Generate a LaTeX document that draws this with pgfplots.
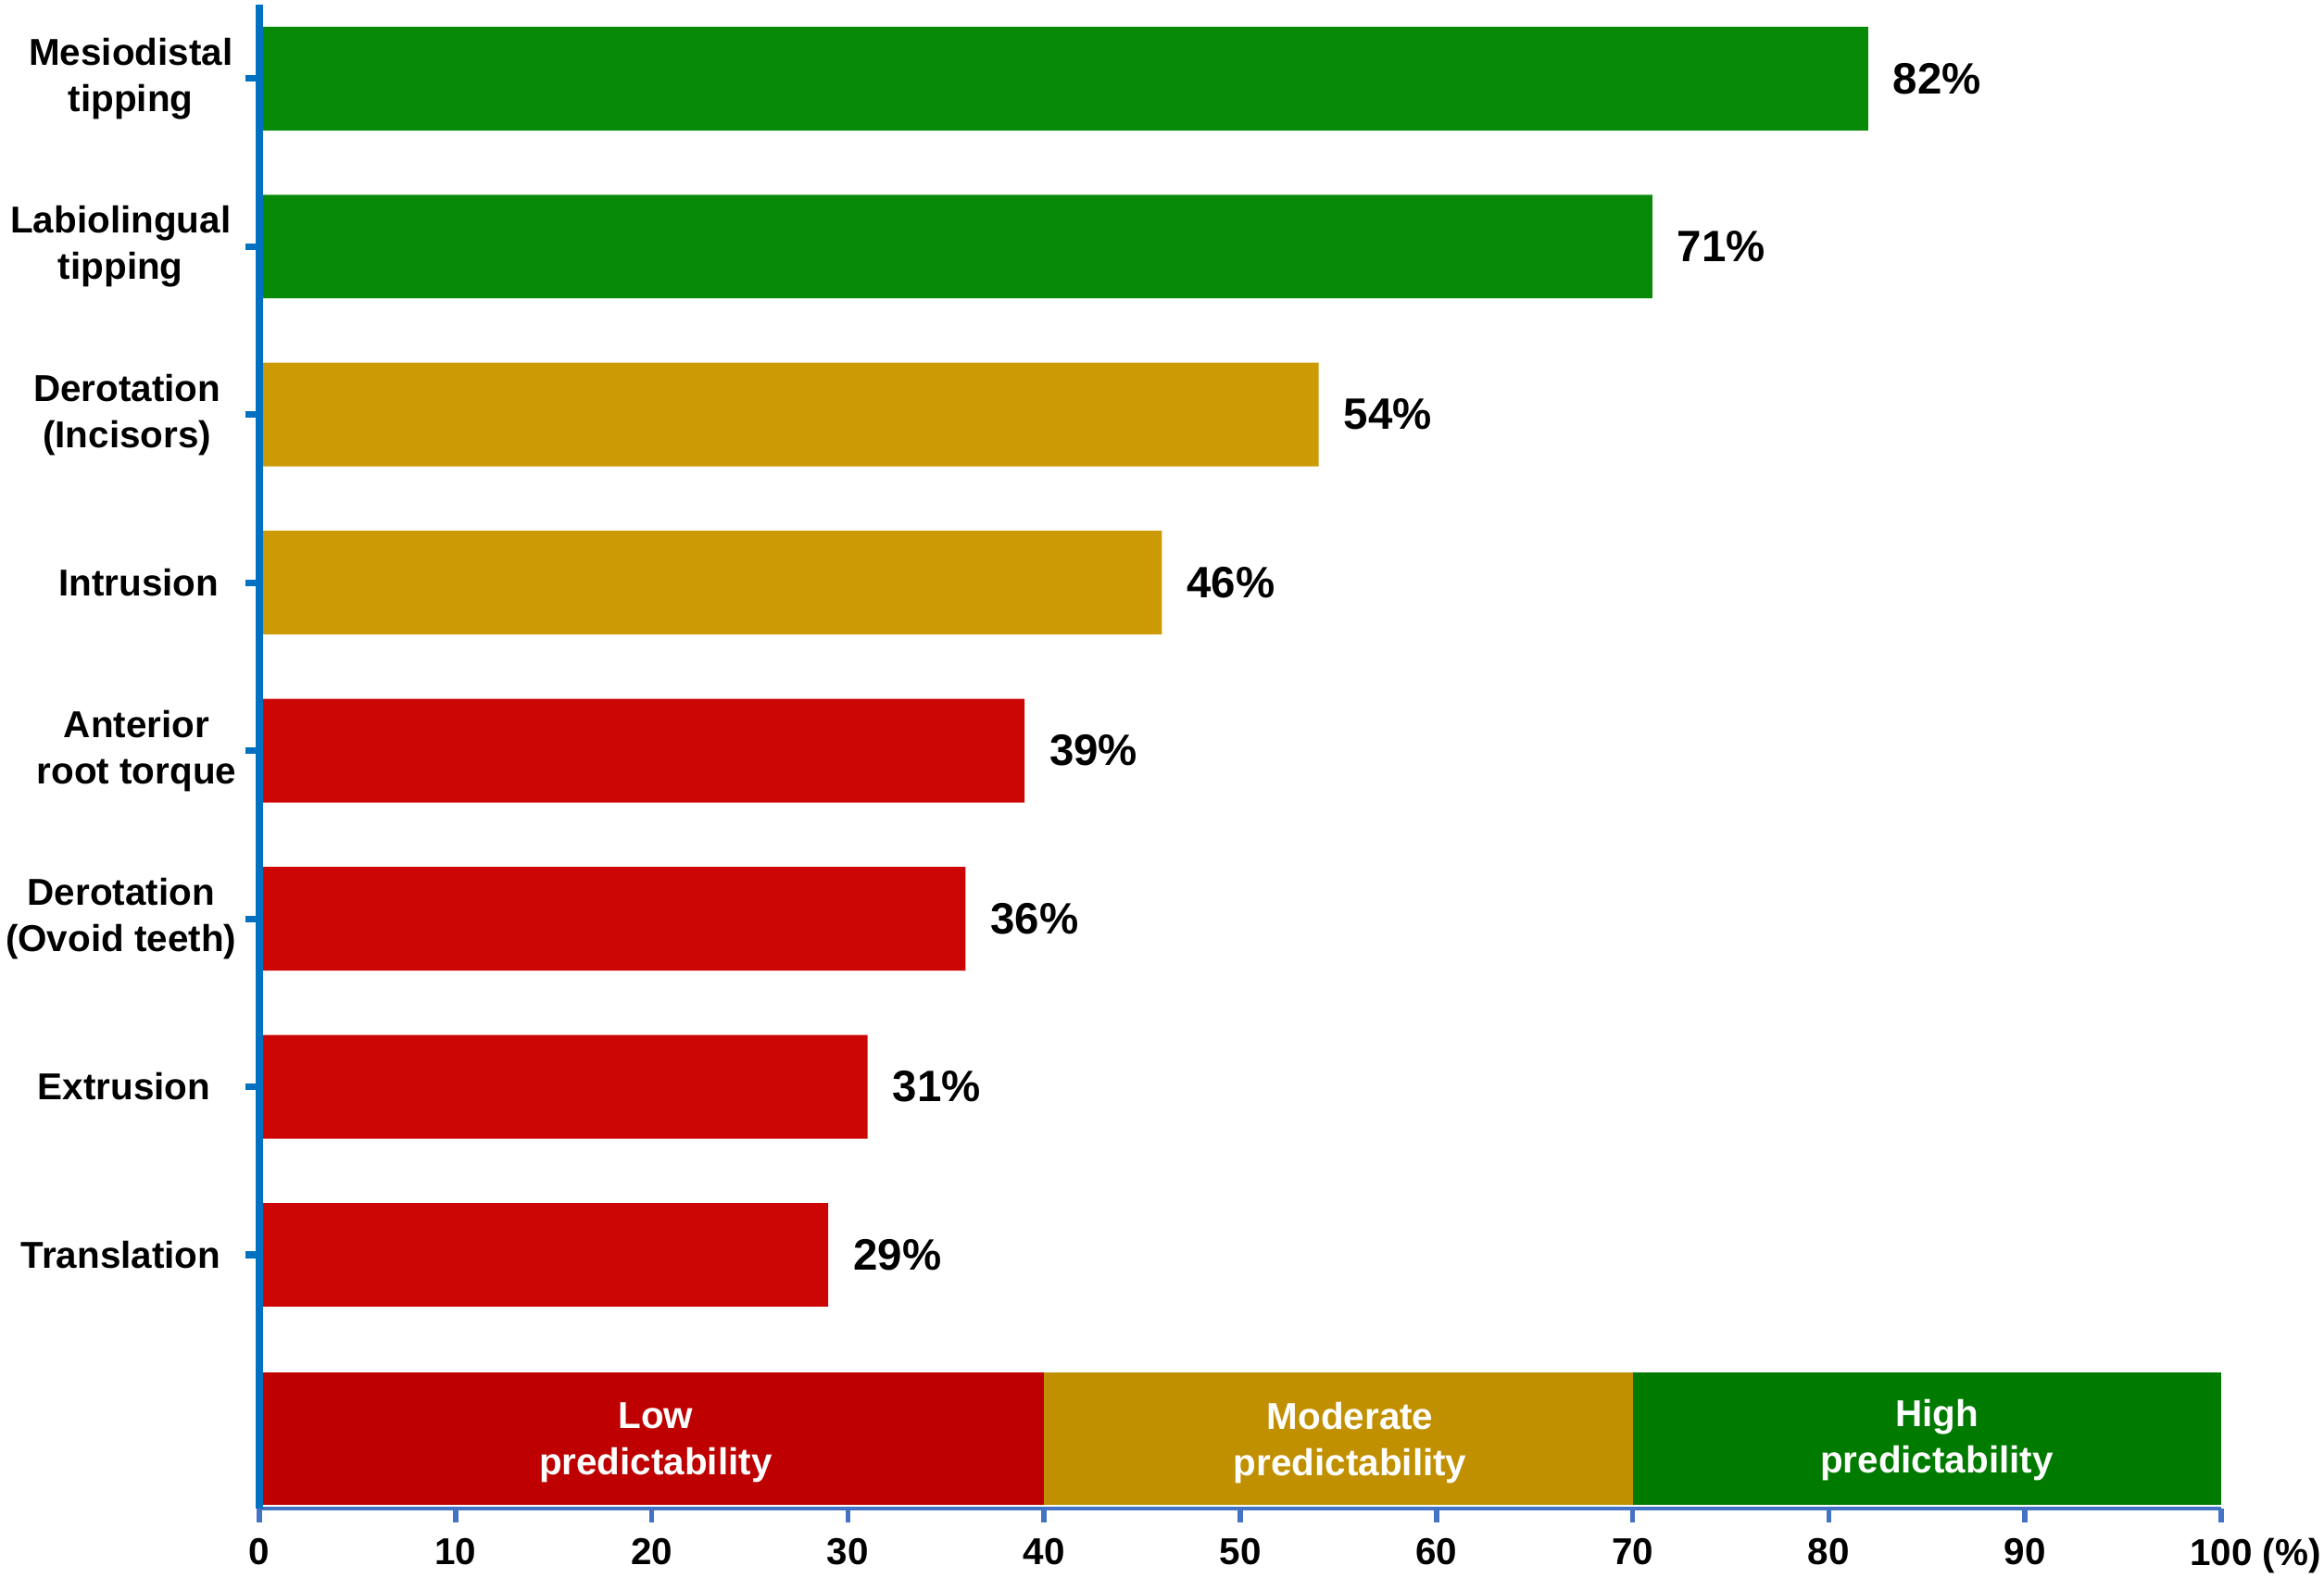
\documentclass[border=0pt]{standalone}
\usepackage{fontspec}
\setmainfont{Liberation Sans}
\usepackage{pgfplots}
\pgfplotsset{compat=1.18}
\definecolor{bargreen}{HTML}{078A07}
\definecolor{bargold}{HTML}{CC9A05}
\definecolor{barred}{HTML}{CC0505}
\definecolor{bandred}{HTML}{BE0000}
\definecolor{bandgold}{HTML}{C09000}
\definecolor{bandgreen}{HTML}{007B00}
\definecolor{yblue}{HTML}{0070C0}
\definecolor{xblue}{HTML}{4472C4}
\newcommand{\lab}{\fontsize{11.5}{14.2}\selectfont\bfseries}
\newcommand{\val}{\fontsize{13.5}{16}\selectfont\bfseries}
\pgfplotsset{
  mybar/.style={
    xbar, bar width=0.617, bar shift=0pt, draw=none, point meta=x,
    nodes near coords={\pgfmathprintnumber{\pgfplotspointmeta}\%},
    nodes near coords style={anchor=west, inner sep=0pt, xshift=7.5pt, font=\val, text=black}},
  band/.style={draw=none, forget plot}
}
\begin{document}
\begin{tikzpicture}
\begin{axis}[
  scale only axis, width=211.8mm, height=162.4mm,
  xmin=0, xmax=100, ymin=-0.51, ymax=8.44,
  axis x line=bottom, axis y line=left,
  x axis line style={-, draw=xblue, line width=1.4pt},
  y axis line style={-, draw=yblue, line width=2pt},
  xtick={0,10,...,100},
  xticklabels={0,10,20,30,40,50,60,70,80,90,{100\rlap{ (\%)}}},
  ytick={1,2,3,4,5,6,7,8},
  yticklabels={
    {Translation\hspace*{1.7mm}},
    {Extrusion\hspace*{2.8mm}},
    {Derotation\\(Ovoid teeth)},
    {Anterior\\root torque},
    {Intrusion\hspace*{1.9mm}},
    {Derotation\hspace*{1.7mm}\\(Incisors)\hspace*{1.7mm}},
    {Labiolingual\hspace*{0.6mm}\\tipping\hspace*{0.6mm}},
    {Mesiodistal\hspace*{0.4mm}\\tipping\hspace*{0.4mm}}},
  tick align=outside, major tick length=1.5mm,
  xtick style={draw=xblue, line width=1.6pt},
  ytick style={draw=yblue, line width=2pt},
  xticklabel style={font=\lab, inner sep=0pt, anchor=north, yshift=-1.7mm},
  yticklabel style={font=\lab, align=center, inner sep=0pt, anchor=east, xshift=-0.9mm},
  axis on top, clip=false,
  /pgf/number format/assume math mode=true,
]
% predictability band
\addplot[band, fill=bandred] coordinates {(0,-0.488) (40,-0.488) (40,0.300) (0,0.300)};
\addplot[band, fill=bandgold] coordinates {(40,-0.488) (70,-0.488) (70,0.300) (40,0.300)};
\addplot[band, fill=bandgreen] coordinates {(70,-0.488) (100,-0.488) (100,0.300) (70,0.300)};
\node[text=white, align=center, font=\lab] at (axis cs:20.2,-0.116) {Low\\predictability};
\node[text=white, align=center, font=\lab] at (axis cs:55.6,-0.12) {Moderate\\predictability};
\node[text=white, align=center, font=\lab] at (axis cs:85.5,-0.10) {High\\predictability};
% bars
\addplot[mybar, fill=bargreen] coordinates {(82,8) (71,7)};
\addplot[mybar, fill=bargold] coordinates {(54,6) (46,5)};
\addplot[mybar, fill=barred] coordinates {(39,4) (36,3) (31,2) (29,1)};
\coordinate (bl) at (rel axis cs:0,0);
\coordinate (tr) at (rel axis cs:1,1);
\end{axis}
\pgfresetboundingbox
\path[use as bounding box] ([shift={(-28mm,-7.5mm)}]bl) rectangle ([shift={(11.1mm,0.5mm)}]tr);
\end{tikzpicture}
\end{document}
